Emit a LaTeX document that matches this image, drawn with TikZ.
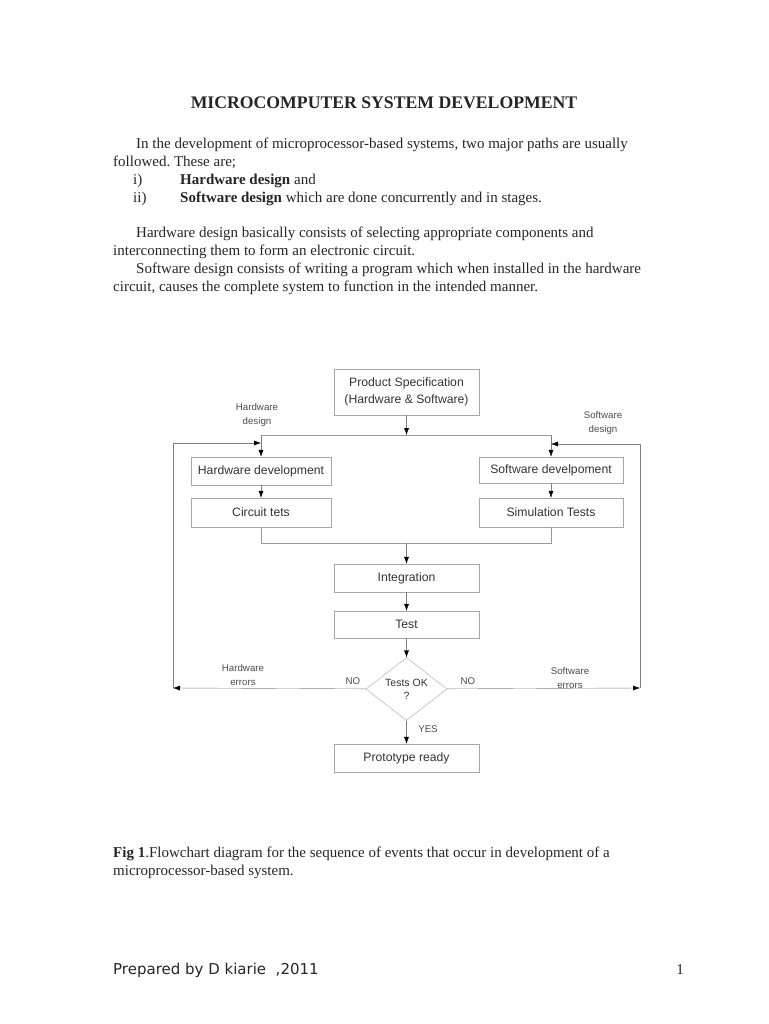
\documentclass[tikz,border=0pt]{standalone}
\usepackage{fontspec}
\setmainfont{Liberation Serif}
\setsansfont{Liberation Sans}
\newfontfamily\footfont{DejaVu Sans}
\usetikzlibrary{arrows.meta,shapes.geometric}
\frenchspacing

\begin{document}
\begin{tikzpicture}[x=1pt,y=-1pt,
  txt/.style={anchor=base west,inner sep=0pt,font=\fontsize{15}{18}\selectfont,text=black!85},
  stage/.style={draw=black!35,minimum width=145pt,minimum height=28pt,inner sep=0pt,
    align=center,font=\sffamily\fontsize{12.2}{16.5}\selectfont,text=black!80},
  note/.style={align=center,inner sep=0pt,font=\sffamily\fontsize{9.7}{13.5}\selectfont,text=black!70},
  flow/.style={draw=black!50,-{Latex[length=7pt,width=5pt,color=black]}},
  link/.style={draw=black!40}]
\useasboundingbox (0,0) rectangle (768,1024);
\fill[white] (0,0) rectangle (768,1024);
% page text:
\node[anchor=base,inner sep=0pt,font=\bfseries\fontsize{17.7}{20}\selectfont,text=black!85] (title) at (384,109) {MICROCOMPUTER SYSTEM DEVELOPMENT};
\node[txt] (par1) at (136,149) {In the development of microprocessor-based systems, two major paths are usually};
\node[txt] (par2) at (113,167) {followed. These are;};
\node[txt] (item1) at (133,185) {i)};
\node[txt] (item1t) at (180,185) {\textbf{Hardware design} and};
\node[txt] (item2) at (133,203) {ii)};
\node[txt] (item2t) at (180,203) {\textbf{Software design} which are done concurrently and in stages.};
\node[txt] (hwpar1) at (136,237) {Hardware design basically consists of selecting appropriate components and};
\node[txt] (hwpar2) at (113,255) {interconnecting them to form an electronic circuit.};
\node[txt] (swpar1) at (136,273) {Software design consists of writing a program which when installed in the hardware};
\node[txt] (swpar2) at (113,291) {circuit, causes the complete system to function in the intended manner.};
% flowchart:
\node[stage,minimum height=46pt] (spec) at (406.5,392) {Product Specification\\(Hardware \& Software)};
\node[stage,minimum width=140pt] (hwdev) at (261,471) {Hardware development};
\node[stage,minimum width=140pt,minimum height=29pt] (circuit) at (261,512.5) {Circuit tets};
\node[stage,minimum width=144pt,minimum height=26pt] (swdev) at (551,470) {Software develpoment};
\node[stage,minimum width=144pt,minimum height=29pt] (simtest) at (551,512.5) {Simulation Tests};
\node[stage] (integ) at (406.5,578) {Integration};
\node[stage,minimum height=27pt] (test) at (406.5,624.5) {Test};
\node[draw=black!35,diamond,minimum width=81pt,minimum height=62pt,inner sep=0pt,align=center,
  font=\sffamily\fontsize{10.5}{13}\selectfont,text=black!80] (testok) at (406.5,689) {Tests OK\\?};
\node[stage] (proto) at (406.5,758) {Prototype ready};
\coordinate (split) at (406.5,435);
\coordinate (join) at (406.5,543);
\coordinate (hwret) at (173,688);
\coordinate (swret) at (640,688);
\coordinate (hwin) at (261,443);
\coordinate (swin) at (551,444);
\draw[flow] (spec) -- (split);
\draw[link] (hwdev.north |- split) -- (swdev.north |- split);
\draw[flow] (hwdev.north |- split) -- (hwdev);
\draw[flow] (swdev.north |- split) -- (swdev);
\draw[flow] (hwdev) -- (circuit);
\draw[flow] (swdev) -- (simtest);
\draw[link] (circuit) -- (circuit.south |- join) -- (simtest.south |- join) -- (simtest);
\draw[flow] (join) -- (integ);
\draw[flow] (integ) -- (test);
\draw[flow] (test) -- (testok);
\draw[flow] (testok) -- (proto);
\draw[flow] (testok) -- (hwret);
\draw[flow] (testok) -- (swret);
\draw[flow] (hwret) |- (hwin);
\draw[flow] (swret) |- (swin);
\node[note] (hwlab) at (257,415) {Hardware\\design};
\node[note] (swlab) at (603,423) {Software\\design};
\node[note] (hwerr) at (243,675) {Hardware\\errors};
\node[note] (swerr) at (570,678) {Software\\errors};
\node[note] (nol) at (353,681) {NO};
\node[note] (nor) at (468,681) {NO};
\node[note] (yes) at (428,729) {YES};
% caption and footer:
\node[txt] (cap1) at (113,857) {\textbf{Fig 1}.Flowchart diagram for the sequence of events that occur in development of a};
\node[txt] (cap2) at (113,875) {microprocessor-based system.};
\node[anchor=base west,inner sep=0pt,font=\footfont\fontsize{15}{17}\selectfont,text=black!85] (foot) at (113,974) {Prepared by D kiarie\ \ ,2011};
\node[anchor=base east,inner sep=0pt,font=\fontsize{15}{18}\selectfont,text=black!85] (pageno) at (684,974) {1};
\end{tikzpicture}
\end{document}
